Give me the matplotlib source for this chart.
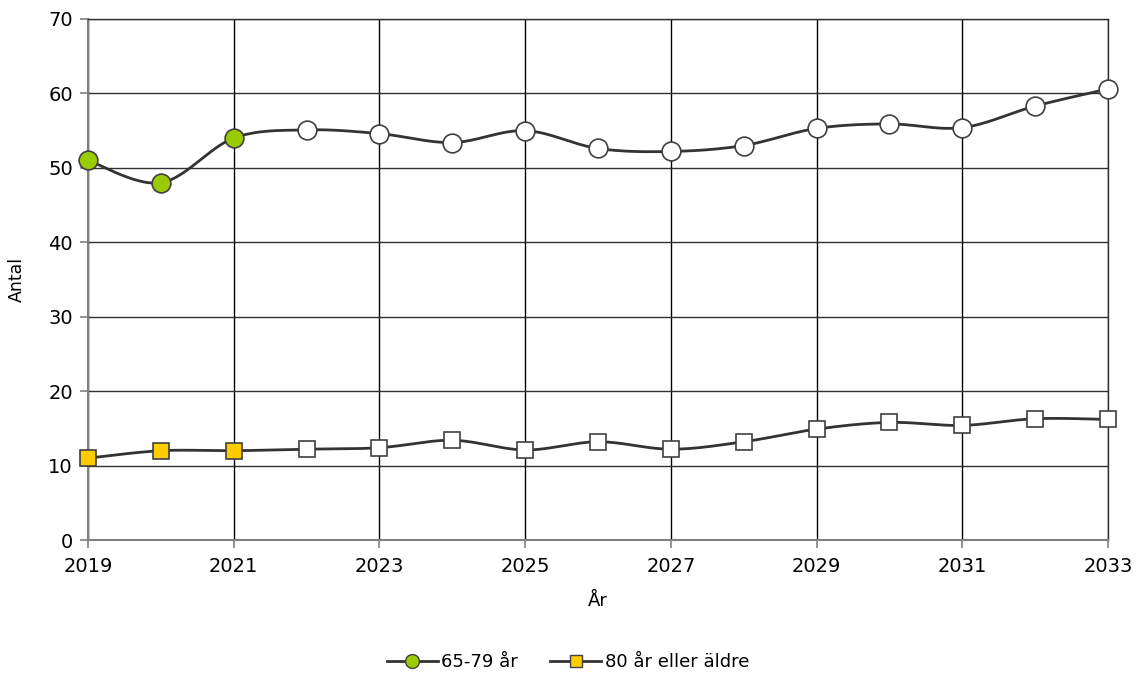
import numpy as np
import matplotlib
matplotlib.use("Agg")
import matplotlib.pyplot as plt
from matplotlib.lines import Line2D

plt.rcParams['font.family'] = ['DejaVu Sans']

years = list(range(2019, 2034))
age_65_79 = [51, 48, 54, 55.1, 54.6, 53.4, 55.0, 52.6, 52.2, 53.0, 55.3, 55.9, 55.4, 58.3, 60.6]
age_80_plus = [11.0, 12.0, 12.0, 12.2, 12.4, 13.4, 12.1, 13.2, 12.2, 13.2, 14.9, 15.8, 15.4, 16.3, 16.2]
n_actual = 3  # first three years are actual (filled markers)
x_ticks = list(range(2019, 2034, 2))
y_ticks = list(range(0, 71, 10))
series_names = ['65-79 år', '80 år eller äldre']

def smooth(x, y, n=30):
    # Catmull-Rom style smoothing like spreadsheet "smoothed line"
    x = np.asarray(x, float); y = np.asarray(y, float)
    px = np.concatenate([[x[0]], x, [x[-1]]])
    py = np.concatenate([[y[0]], y, [y[-1]]])
    xs, ys = [], []
    for i in range(1, len(px) - 2):
        p0 = np.array([px[i-1], py[i-1]]); p1 = np.array([px[i], py[i]])
        p2 = np.array([px[i+1], py[i+1]]); p3 = np.array([px[i+2], py[i+2]])
        c1 = p1 + (p2 - p0) / 6.0
        c2 = p2 - (p3 - p1) / 6.0
        t = np.linspace(0, 1, n)[:, None]
        pts = (1-t)**3*p1 + 3*(1-t)**2*t*c1 + 3*(1-t)*t**2*c2 + t**3*p2
        xs.extend(pts[:, 0]); ys.extend(pts[:, 1])
    return np.array(xs), np.array(ys)

fig = plt.figure(figsize=(11.36, 6.73), dpi=100)
ax = fig.add_axes([0.0775, 0.1976, 0.9754 - 0.0775, 0.9718 - 0.1976])

line_color = '#333333'
edge = '#404040'
green = '#99CC00'
yellow = '#FFCC00'

for vals, marker, fill, ms in [(age_65_79, 'o', green, 13.5), (age_80_plus, 's', yellow, 12)]:
    sx, sy = smooth(years, vals)
    ax.plot(sx, sy, color=line_color, lw=2.0, zorder=3, solid_capstyle='round')
    ax.plot(years[:n_actual], vals[:n_actual], ls='none', marker=marker, ms=ms,
            mfc=fill, mec=edge, mew=1.2, zorder=4, clip_on=False)
    ax.plot(years[n_actual:], vals[n_actual:], ls='none', marker=marker, ms=ms,
            mfc='white', mec=edge, mew=1.2, zorder=4, clip_on=False)

ax.set_xlim(2019, 2033)
ax.set_ylim(0, 70)
ax.set_xticks(x_ticks)
ax.set_yticks(y_ticks)
ax.tick_params(axis='both', labelsize=14, color='#808080', length=6, width=1.2)
ax.tick_params(axis='x', pad=6)
ax.tick_params(axis='y', pad=5)
ax.grid(axis='y', color='#303030', lw=1.0)
ax.grid(axis='x', color='#000000', lw=1.0)
ax.set_axisbelow(True)
for s in ['left', 'bottom']:
    ax.spines[s].set_color('#808080')
    ax.spines[s].set_linewidth(1.5)
for s in ['top', 'right']:
    ax.spines[s].set_color('#303030')
    ax.spines[s].set_linewidth(1.0)

ax.set_xlabel('År', fontsize=13, labelpad=12)
ax.set_ylabel('Antal', fontsize=12.5, labelpad=16)

handles = [
    Line2D([0], [0], color=line_color, lw=2, marker='o', ms=10, mfc=green, mec=edge),
    Line2D([0], [0], color=line_color, lw=2, marker='s', ms=9, mfc=yellow, mec=edge),
]
fig.legend(handles, series_names, loc='center', bbox_to_anchor=(0.5, 1 - 662/673),
           ncol=2, frameon=False, fontsize=13, handlelength=2.8, handletextpad=0.2,
           columnspacing=1.8)

fig.savefig('out.png', dpi=100)
